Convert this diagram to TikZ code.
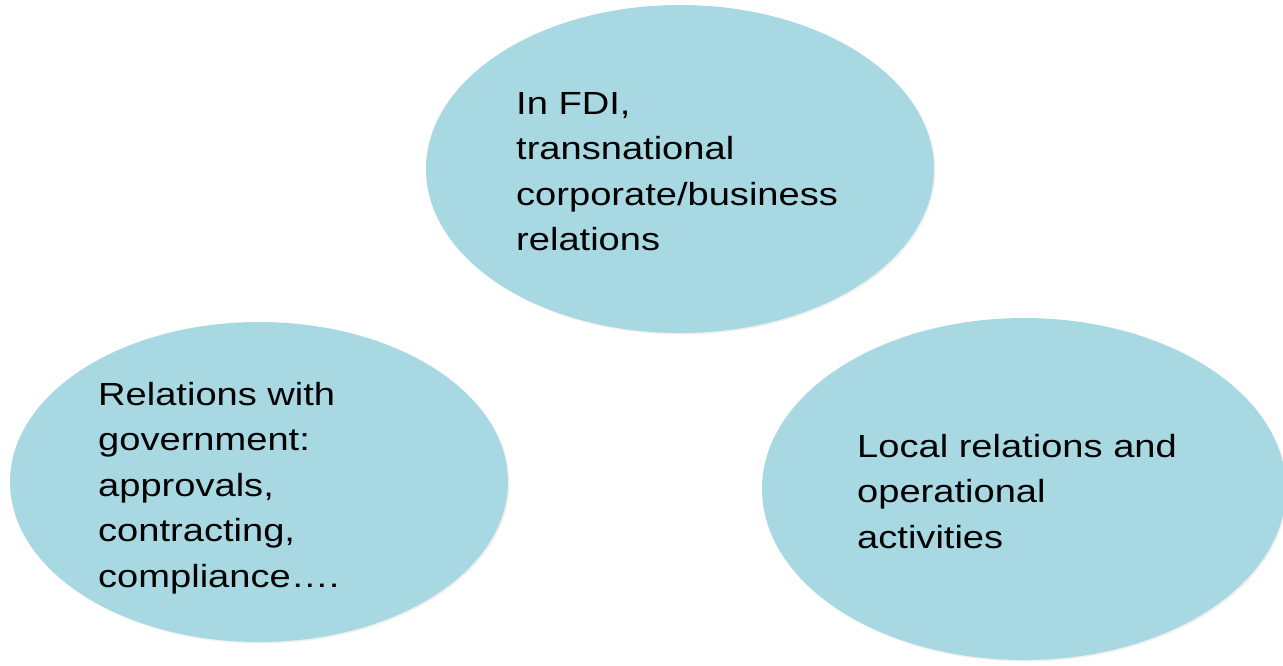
\documentclass[tikz,border=0pt]{standalone}
\usepackage{fontspec}
\newfontfamily\slidefont[FakeStretch=1.19]{Liberation Sans}
\usetikzlibrary{shapes.geometric,shadows}
\definecolor{bubble}{RGB}{168,217,227}
\tikzset{
  bubble/.style={ellipse, fill=bubble, draw=none, inner sep=0pt,
    drop shadow={opacity=0.12, shadow xshift=1.5pt, shadow yshift=-1.5pt}},
  bubbletext/.style={anchor=north west, inner sep=0pt, align=left,
    font=\slidefont\fontsize{32}{45.5}\selectfont, text=black}
}
\begin{document}
\begin{tikzpicture}[x=1pt,y=-1pt]
\useasboundingbox (0,0) rectangle (1283,665);
\node[bubble, minimum width=508pt, minimum height=328pt] (top) at (680,169) {};
\node[bubble, minimum width=498pt, minimum height=320pt] (left) at (259,482) {};
\node[bubble, minimum width=524pt, minimum height=342pt] (right) at (1024,489) {};
\node[bubbletext] (toptext) at (516,92) {In FDI,\\transnational\\corporate/business\\relations};
\node[bubbletext] (lefttext) at (98,382) {Relations with\\government:\\approvals,\\contracting,\\compliance….};
\node[bubbletext] (righttext) at (857,434) {Local relations and\\operational\\activities};
\end{tikzpicture}
\end{document}
